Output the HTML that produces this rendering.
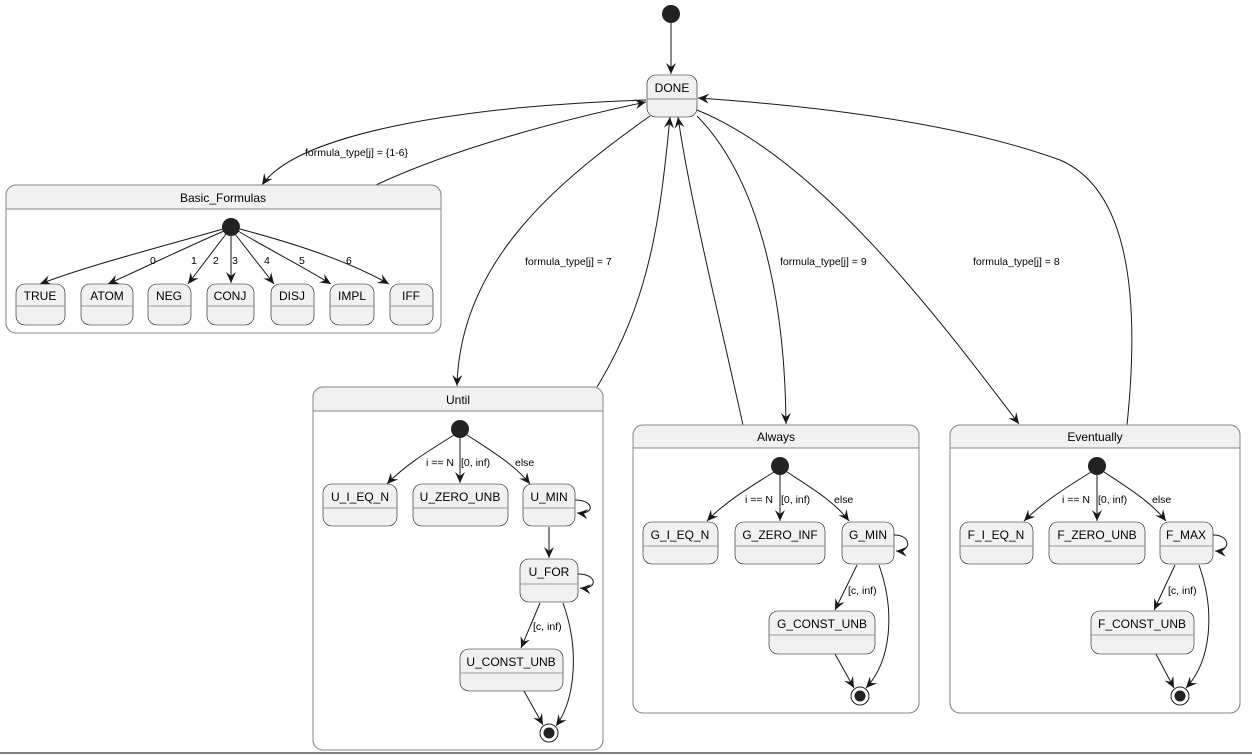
<!DOCTYPE html>
<html><head><meta charset="utf-8"><style>
html,body{margin:0;padding:0;background:#fff}
svg{display:block}
text{font-family:"Liberation Sans",sans-serif;fill:#000}
</style></head><body>
<svg width="1252" height="756" viewBox="0 0 1252 756" xmlns="http://www.w3.org/2000/svg">
<defs>
<marker id="a" viewBox="0 0 12 10" refX="11" refY="5" markerWidth="12" markerHeight="10" orient="auto" markerUnits="userSpaceOnUse">
<path d="M0,0 L11,5 L0,10 L4,5 Z" fill="#181818"/>
</marker>
</defs>
<g fill="none" stroke="#181818" stroke-width="1">
<!-- top -->
<line x1="671" y1="23" x2="671" y2="74" marker-end="url(#a)"/>
<!-- DONE <-> Basic -->
<path d="M646,100 C480,105 300,130 262,185" marker-end="url(#a)"/>
<path d="M376,185 C450,150 560,120 646,102" marker-end="url(#a)"/>
<!-- DONE <-> Until -->
<path d="M650,116 C560,180 460,260 457,386" marker-end="url(#a)"/>
<path d="M597,387 C650,300 660,220 670,117" marker-end="url(#a)"/>
<!-- Always -->
<path d="M743,425 C720,320 690,200 678,117" marker-end="url(#a)"/>
<path d="M697,116 C760,180 785,300 786,424" marker-end="url(#a)"/>
<!-- Eventually -->
<path d="M697,110 C820,160 940,320 1019,424" marker-end="url(#a)"/>
<path d="M1127,425 C1140,300 1130,190 1060,160 C950,120 800,105 698,98" marker-end="url(#a)"/>
<line x1="0" y1="753" x2="1252" y2="753" stroke="#000"/>
</g>
<g font-size="10.5">
<text x="305" y="156">formula_type[j] = {1-6}</text>
<text x="525" y="265">formula_type[j] = 7</text>
<text x="780" y="265">formula_type[j] = 9</text>
<text x="973" y="265">formula_type[j] = 8</text>
</g>
<circle cx="671" cy="14" r="9" fill="#222"/>
<!-- DONE -->
<g stroke="#181818" stroke-width="0.6" fill="#f1f1f1">
<rect x="647" y="75" width="50" height="42" rx="9"/>
</g>
<line x1="647" y1="99" x2="697" y2="99" stroke="#888"/>
<text x="672" y="92" font-size="12" text-anchor="middle">DONE</text>

<!-- containers -->
<g stroke="#888" fill="#fff">
<rect x="6" y="185" width="435" height="148" rx="10"/>
<rect x="313" y="387" width="290" height="363" rx="10"/>
<rect x="633" y="425" width="286" height="288" rx="10"/>
<rect x="950" y="425" width="290" height="288" rx="10"/>
</g>
<g fill="#f1f1f1">
<path d="M6,209 V195 a10,10 0 0 1 10,-10 H431 a10,10 0 0 1 10,10 V209 Z"/>
<path d="M313,411 V397 a10,10 0 0 1 10,-10 H593 a10,10 0 0 1 10,10 V411 Z"/>
<path d="M633,448 V435 a10,10 0 0 1 10,-10 H909 a10,10 0 0 1 10,10 V448 Z"/>
<path d="M950,448 V435 a10,10 0 0 1 10,-10 H1230 a10,10 0 0 1 10,10 V448 Z"/>
</g>
<g stroke="#888" fill="none">
<rect x="6" y="185" width="435" height="148" rx="10"/>
<rect x="313" y="387" width="290" height="363" rx="10"/>
<rect x="633" y="425" width="286" height="288" rx="10"/>
<rect x="950" y="425" width="290" height="288" rx="10"/>
<line x1="6" y1="209" x2="441" y2="209"/>
<line x1="313" y1="411" x2="603" y2="411"/>
<line x1="633" y1="448" x2="919" y2="448"/>
<line x1="950" y1="448" x2="1240" y2="448"/>
</g>
<g font-size="12" text-anchor="middle">
<text x="223" y="202">Basic_Formulas</text>
<text x="458" y="404">Until</text>
<text x="776" y="441">Always</text>
<text x="1095" y="441">Eventually</text>
</g>

<!-- Basic internals -->
<g fill="none" stroke="#181818">
<path d="M223,229 C150,250 90,265 40,284" marker-end="url(#a)"/>
<path d="M224,231 C180,250 150,265 108,284" marker-end="url(#a)"/>
<path d="M226,234 L188,284" marker-end="url(#a)"/>
<line x1="231" y1="236" x2="231" y2="283" marker-end="url(#a)"/>
<path d="M235,234 L274,284" marker-end="url(#a)"/>
<path d="M238,231 C270,250 300,265 331,284" marker-end="url(#a)"/>
<path d="M240,229 C300,245 350,262 389,284" marker-end="url(#a)"/>
</g>
<circle cx="231" cy="227" r="9" fill="#222"/>
<g font-size="10.5">
<text x="150" y="264">0</text><text x="191" y="264">1</text><text x="213" y="264">2</text>
<text x="232" y="264">3</text><text x="264" y="264">4</text><text x="299" y="264">5</text><text x="346" y="264">6</text>
</g>

<!-- state boxes -->
<g stroke="#181818" stroke-width="0.6" fill="#f1f1f1">
<rect x="16" y="284" width="49" height="41" rx="9"/>
<rect x="81" y="284" width="52" height="41" rx="9"/>
<rect x="148" y="284" width="43" height="41" rx="9"/>
<rect x="207" y="284" width="47" height="41" rx="9"/>
<rect x="271" y="284" width="43" height="41" rx="9"/>
<rect x="330" y="284" width="44" height="41" rx="9"/>
<rect x="390" y="284" width="43" height="41" rx="9"/>
<rect x="323" y="484" width="74" height="42" rx="9"/>
<rect x="413" y="484" width="95" height="42" rx="9"/>
<rect x="523" y="484" width="52" height="42" rx="9"/>
<rect x="520" y="559" width="58" height="43" rx="9"/>
<rect x="460" y="649" width="103" height="42" rx="9"/>
<rect x="643" y="522" width="75" height="42" rx="9"/>
<rect x="735" y="522" width="90" height="42" rx="9"/>
<rect x="842" y="522" width="52" height="42" rx="9"/>
<rect x="769" y="611" width="106" height="43" rx="9"/>
<rect x="960" y="522" width="73" height="42" rx="9"/>
<rect x="1049" y="522" width="96" height="42" rx="9"/>
<rect x="1160" y="522" width="53" height="42" rx="9"/>
<rect x="1091" y="611" width="103" height="43" rx="9"/>
</g>
<g stroke="#999">
<line x1="16" y1="306" x2="65" y2="306"/><line x1="81" y1="306" x2="133" y2="306"/>
<line x1="148" y1="306" x2="191" y2="306"/><line x1="207" y1="306" x2="254" y2="306"/>
<line x1="271" y1="306" x2="314" y2="306"/><line x1="330" y1="306" x2="374" y2="306"/>
<line x1="390" y1="306" x2="433" y2="306"/>
<line x1="323" y1="508" x2="397" y2="508"/><line x1="413" y1="508" x2="508" y2="508"/>
<line x1="523" y1="508" x2="575" y2="508"/><line x1="520" y1="584" x2="578" y2="584"/>
<line x1="460" y1="673" x2="563" y2="673"/>
<line x1="643" y1="546" x2="718" y2="546"/><line x1="735" y1="546" x2="825" y2="546"/>
<line x1="842" y1="546" x2="894" y2="546"/><line x1="769" y1="635" x2="875" y2="635"/>
<line x1="960" y1="546" x2="1033" y2="546"/><line x1="1049" y1="546" x2="1145" y2="546"/>
<line x1="1160" y1="546" x2="1213" y2="546"/><line x1="1091" y1="635" x2="1194" y2="635"/>
</g>
<g font-size="12" text-anchor="middle">
<text x="40" y="300">TRUE</text><text x="107" y="300">ATOM</text><text x="169" y="300">NEG</text>
<text x="230" y="300">CONJ</text><text x="292" y="300">DISJ</text><text x="352" y="300">IMPL</text><text x="411" y="300">IFF</text>
<text x="360" y="501">U_I_EQ_N</text><text x="460" y="501">U_ZERO_UNB</text><text x="549" y="501">U_MIN</text>
<text x="549" y="576">U_FOR</text><text x="511" y="666">U_CONST_UNB</text>
<text x="680" y="539">G_I_EQ_N</text><text x="780" y="539">G_ZERO_INF</text><text x="868" y="539">G_MIN</text>
<text x="822" y="628">G_CONST_UNB</text>
<text x="996" y="539">F_I_EQ_N</text><text x="1097" y="539">F_ZERO_UNB</text><text x="1186" y="539">F_MAX</text>
<text x="1142" y="628">F_CONST_UNB</text>
</g>

<!-- Until internals -->
<g fill="none" stroke="#181818">
<path d="M454,435 C430,450 405,465 387,484" marker-end="url(#a)"/>
<line x1="460" y1="438" x2="460" y2="483" marker-end="url(#a)"/>
<path d="M467,435 C490,450 515,465 530,484" marker-end="url(#a)"/>
<path d="M575,500 C595,500 595,515 577,513" marker-end="url(#a)"/>
<line x1="549" y1="527" x2="549" y2="558" marker-end="url(#a)"/>
<path d="M578,574 C598,574 598,590 580,588" marker-end="url(#a)"/>
<path d="M540,603 L521,648" marker-end="url(#a)"/>
<path d="M563,603 C580,650 575,700 556,726" marker-end="url(#a)"/>
<path d="M524,691 L543,725" marker-end="url(#a)"/>
<!-- Always internals -->
<path d="M774,472 C750,487 725,502 707,521" marker-end="url(#a)"/>
<line x1="780" y1="475" x2="780" y2="521" marker-end="url(#a)"/>
<path d="M787,472 C810,487 835,502 849,521" marker-end="url(#a)"/>
<path d="M894,535 C912,535 912,552 896,551" marker-end="url(#a)"/>
<path d="M857,565 L835,610" marker-end="url(#a)"/>
<path d="M879,565 C895,610 892,660 866,688" marker-end="url(#a)"/>
<path d="M835,654 L854,688" marker-end="url(#a)"/>
<!-- Eventually internals -->
<path d="M1091,472 C1067,487 1043,502 1024,521" marker-end="url(#a)"/>
<line x1="1097" y1="475" x2="1097" y2="521" marker-end="url(#a)"/>
<path d="M1104,472 C1127,487 1151,502 1166,521" marker-end="url(#a)"/>
<path d="M1213,535 C1231,535 1231,552 1215,551" marker-end="url(#a)"/>
<path d="M1175,565 L1154,610" marker-end="url(#a)"/>
<path d="M1199,565 C1215,610 1212,660 1186,688" marker-end="url(#a)"/>
<path d="M1156,654 L1174,688" marker-end="url(#a)"/>
</g>
<g fill="#222">
<circle cx="460" cy="429" r="9"/><circle cx="780" cy="466" r="9"/><circle cx="1097" cy="466" r="9"/>
</g>
<g fill="#fff" stroke="#222">
<circle cx="549" cy="733" r="9"/><circle cx="860" cy="696" r="9"/><circle cx="1180" cy="696" r="9"/>
</g>
<g fill="#222">
<circle cx="549" cy="733" r="5.5"/><circle cx="860" cy="696" r="5.5"/><circle cx="1180" cy="696" r="5.5"/>
</g>
<g font-size="10.5">
<text x="426" y="466">i == N</text><text x="461" y="466">[0, inf)</text><text x="515" y="466">else</text>
<text x="533" y="630">[c, inf)</text>
<text x="745" y="503">i == N</text><text x="781" y="503">[0, inf)</text><text x="834" y="503">else</text>
<text x="848" y="594">[c, inf)</text>
<text x="1062" y="503">i == N</text><text x="1098" y="503">[0, inf)</text><text x="1152" y="503">else</text>
<text x="1168" y="594">[c, inf)</text>
</g>
</svg>
</body></html>
